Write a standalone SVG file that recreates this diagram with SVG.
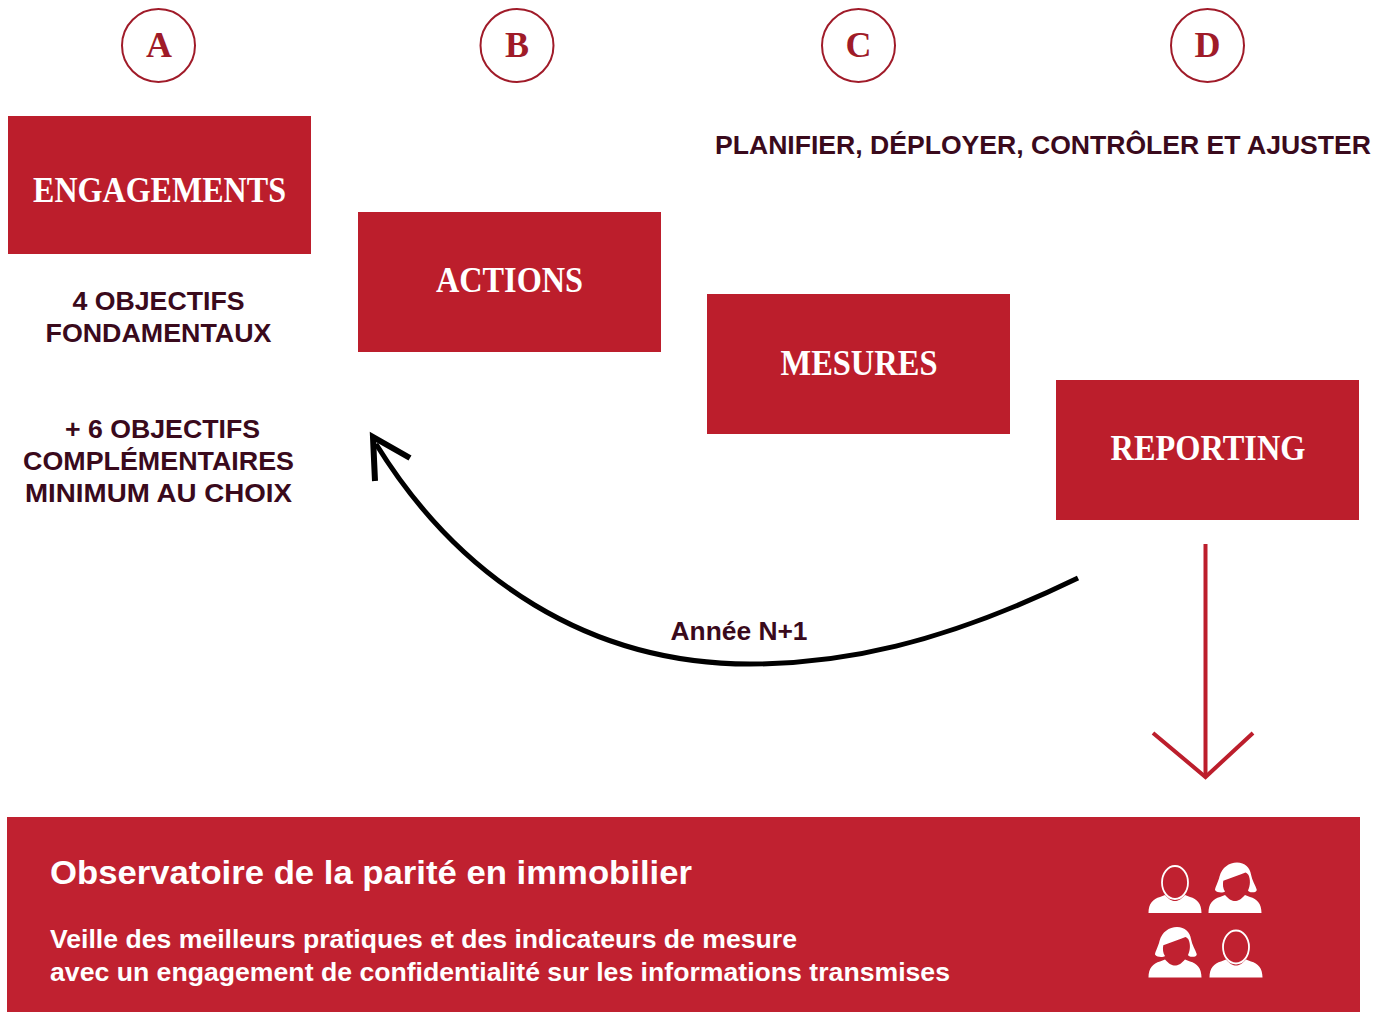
<svg xmlns="http://www.w3.org/2000/svg" xmlns:xlink="http://www.w3.org/1999/xlink" width="1388" height="1012" viewBox="0 0 1388 1012">
<style>
.box{fill:#bc1e2c}
.ring{fill:#fff;stroke:#a01b29;stroke-width:2}
.let{font-family:"Liberation Serif",serif;font-weight:700;font-size:36px;fill:#9f1b28;text-anchor:middle}
.ttl{font-family:"Liberation Serif",serif;font-weight:700;font-size:36px;fill:#fff;text-anchor:middle}
.sub{font-family:"Liberation Sans",Arial,sans-serif;font-weight:700;font-size:26px;fill:#3a0a1c;text-anchor:middle}
.wh{font-family:"Liberation Sans",Arial,sans-serif;font-weight:700;fill:#fff}
.ic{fill:#fff}
</style>
<defs>
<g id="body"><path class="ic" d="M-26.500 30.500C-26.500 21-22 16.500-15 14.500L-10 12.500C-6 17-3 18.500 0 18.500C3 18.500 6 17 10 12.500L15 14.500C22 16.500 26.500 21 26.500 30.500Z"/></g>
<g id="man"><use href="#body"/><ellipse cx="0" cy="0" rx="13" ry="16.500" fill="none" stroke="#fff" stroke-width="1.800"/></g>
<g id="woman"><use href="#body"/><path class="ic" d="M-20 7.500C-20 5-16.500 -1-15.500 -6C-13 -15-6 -20 2 -20C10 -20 15 -15 16 -8C17 -2 20.500 3 21.700 7C22 9.500 19 10 17 9.800C15 9.800 13.500 9 13 8C15.500 3 15.500 -3 13.500 -7.500C12.500 -9 11 -10 10.500 -10L6.700 -8.500L-11.700 -1.800C-12.500 2-12 6-10 9C-12 10.500-18 10.500-20 7.500Z"/></g>
</defs>
<rect width="1388" height="1012" fill="#fff"/>
<g id="connectors" fill="none">
<path d="M1078 578C940 645 840 664 750 664C590 664 460 580 376 444" stroke="#000" stroke-width="5"/>
<path d="M375 481L373 437L410 458" stroke="#000" stroke-width="6"/>
<path d="M1205.500 544V777" stroke="#bc1e2c" stroke-width="4"/>
<path d="M1153 733L1205.500 777L1253 733" stroke="#bc1e2c" stroke-width="4"/>
</g>
<g id="badge-a"><circle class="ring" cx="158.500" cy="45.500" r="36.500"/><text class="let" x="159" y="56.500">A</text></g>
<g id="badge-b"><circle class="ring" cx="517" cy="45.500" r="36.500"/><text class="let" x="517" y="56.500">B</text></g>
<g id="badge-c"><circle class="ring" cx="858.500" cy="45.500" r="36.500"/><text class="let" x="858.500" y="56.500">C</text></g>
<g id="badge-d"><circle class="ring" cx="1207.500" cy="45.500" r="36.500"/><text class="let" x="1207.500" y="56.500">D</text></g>
<g id="engagements"><rect class="box" x="8" y="116" width="303" height="138"/><text class="ttl" x="159.500" y="201.500" textLength="253" lengthAdjust="spacingAndGlyphs">ENGAGEMENTS</text></g>
<g id="actions"><rect class="box" x="358" y="212" width="303" height="140"/><text class="ttl" x="509.500" y="291.500" textLength="147" lengthAdjust="spacingAndGlyphs">ACTIONS</text></g>
<g id="mesures"><rect class="box" x="707" y="294" width="303" height="140"/><text class="ttl" x="859" y="374.500" textLength="157" lengthAdjust="spacingAndGlyphs">MESURES</text></g>
<g id="reporting"><rect class="box" x="1056" y="380" width="303" height="140"/><text class="ttl" x="1208" y="459.500" textLength="195" lengthAdjust="spacingAndGlyphs">REPORTING</text></g>
<g id="plan"><text class="sub" x="1043" y="154" textLength="656" lengthAdjust="spacingAndGlyphs">PLANIFIER, DÉPLOYER, CONTRÔLER ET AJUSTER</text></g>
<g id="objectifs">
<text class="sub" x="158.500" y="310" textLength="172" lengthAdjust="spacingAndGlyphs">4 OBJECTIFS</text>
<text class="sub" x="158.500" y="342" textLength="226" lengthAdjust="spacingAndGlyphs">FONDAMENTAUX</text>
<text class="sub" x="162.500" y="438" textLength="195" lengthAdjust="spacingAndGlyphs">+ 6 OBJECTIFS</text>
<text class="sub" x="158.500" y="470" textLength="271" lengthAdjust="spacingAndGlyphs">COMPLÉMENTAIRES</text>
<text class="sub" x="158.500" y="502" textLength="267" lengthAdjust="spacingAndGlyphs">MINIMUM AU CHOIX</text>
</g>
<g id="annee"><text class="sub" x="739" y="640" textLength="137" lengthAdjust="spacingAndGlyphs">Année N+1</text></g>
<g id="observatoire">
<rect x="7" y="817" width="1353" height="195" fill="#c02130"/>
<text class="wh" x="50" y="884" font-size="33" textLength="642" lengthAdjust="spacingAndGlyphs">Observatoire de la parité en immobilier</text>
<text class="wh" x="50" y="948" font-size="26" textLength="747" lengthAdjust="spacingAndGlyphs">Veille des meilleurs pratiques et des indicateurs de mesure</text>
<text class="wh" x="50" y="981" font-size="26" textLength="900" lengthAdjust="spacingAndGlyphs">avec un engagement de confidentialité sur les informations transmises</text>
<use href="#man" x="1175" y="882.500"/>
<use href="#woman" x="1235" y="882.500"/>
<use href="#woman" x="1175" y="947"/>
<use href="#man" x="1236" y="947"/>
</g>
</svg>
